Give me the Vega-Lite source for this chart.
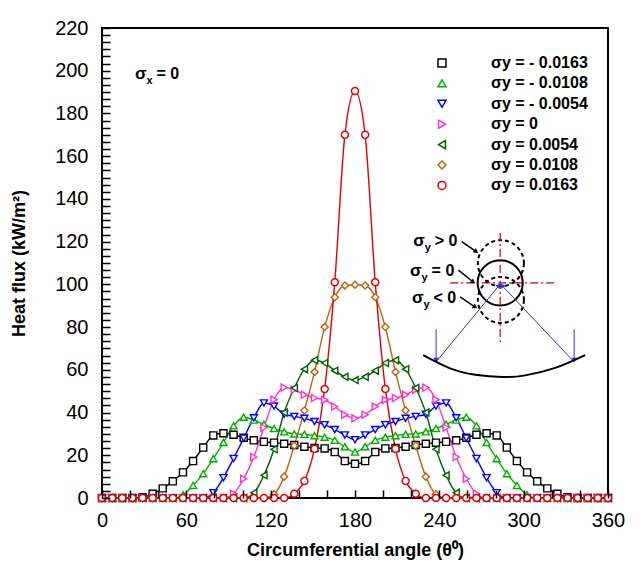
{
  "$schema": "https://vega.github.io/schema/vega-lite/v6.json",
  "width": 506,
  "height": 470,
  "autosize": {"type": "none"},
  "padding": {"left": 102, "top": 28, "right": 32, "bottom": 71},
  "background": "white",
  "config": {
    "font": "Liberation Sans",
    "view": {"stroke": "black", "strokeWidth": 2},
    "axis": {
      "domain": false,
      "grid": false,
      "labelColor": "black",
      "labelFont": "Liberation Sans",
      "labelFontSize": 20,
      "labelOverlap": false,
      "labelFlush": false,
      "titleFont": "Liberation Sans",
      "titleFontSize": 18,
      "titleFontWeight": "bold",
      "titleColor": "black"
    }
  },
  "datasets": {
    "curves": [
      {"s":"-0.0163","a":0,"q":0},{"s":"-0.0163","a":7.2,"q":0},{"s":"-0.0163","a":14.4,"q":0},{"s":"-0.0163","a":21.6,"q":0},{"s":"-0.0163","a":28.8,"q":0.3},{"s":"-0.0163","a":36,"q":2},{"s":"-0.0163","a":43.2,"q":4.5},{"s":"-0.0163","a":50.4,"q":7.8},{"s":"-0.0163","a":57.6,"q":12},{"s":"-0.0163","a":64.8,"q":17.3},{"s":"-0.0163","a":72,"q":23.6},{"s":"-0.0163","a":79.2,"q":29.3},{"s":"-0.0163","a":86.4,"q":30.3},{"s":"-0.0163","a":93.6,"q":29.6},{"s":"-0.0163","a":100.8,"q":28.2},{"s":"-0.0163","a":108,"q":27},{"s":"-0.0163","a":115.2,"q":26.3},{"s":"-0.0163","a":122.4,"q":25.9},{"s":"-0.0163","a":129.6,"q":25.4},{"s":"-0.0163","a":136.8,"q":24.8},{"s":"-0.0163","a":144,"q":24},{"s":"-0.0163","a":151.2,"q":23.4},{"s":"-0.0163","a":158.4,"q":23.2},{"s":"-0.0163","a":165.6,"q":21.5},{"s":"-0.0163","a":172.8,"q":17.3},{"s":"-0.0163","a":180,"q":16},{"s":"-0.0163","a":187.2,"q":17.3},{"s":"-0.0163","a":194.4,"q":21.5},{"s":"-0.0163","a":201.6,"q":23.2},{"s":"-0.0163","a":208.8,"q":23.4},{"s":"-0.0163","a":216,"q":24},{"s":"-0.0163","a":223.2,"q":24.8},{"s":"-0.0163","a":230.4,"q":25.4},{"s":"-0.0163","a":237.6,"q":25.9},{"s":"-0.0163","a":244.8,"q":26.3},{"s":"-0.0163","a":252,"q":27},{"s":"-0.0163","a":259.2,"q":28.2},{"s":"-0.0163","a":266.4,"q":29.6},{"s":"-0.0163","a":273.6,"q":30.3},{"s":"-0.0163","a":280.8,"q":29.3},{"s":"-0.0163","a":288,"q":23.6},{"s":"-0.0163","a":295.2,"q":17.3},{"s":"-0.0163","a":302.4,"q":12},{"s":"-0.0163","a":309.6,"q":7.8},{"s":"-0.0163","a":316.8,"q":4.5},{"s":"-0.0163","a":324,"q":2},{"s":"-0.0163","a":331.2,"q":0.3},{"s":"-0.0163","a":338.4,"q":0},{"s":"-0.0163","a":345.6,"q":0},{"s":"-0.0163","a":352.8,"q":0},{"s":"-0.0163","a":360,"q":0},
      {"s":"-0.0108","a":0,"q":0},{"s":"-0.0108","a":7.2,"q":0},{"s":"-0.0108","a":14.4,"q":0},{"s":"-0.0108","a":21.6,"q":0},{"s":"-0.0108","a":28.8,"q":0},{"s":"-0.0108","a":36,"q":0},{"s":"-0.0108","a":43.2,"q":0},{"s":"-0.0108","a":50.4,"q":0},{"s":"-0.0108","a":57.6,"q":1.5},{"s":"-0.0108","a":64.8,"q":5.9},{"s":"-0.0108","a":72,"q":11.4},{"s":"-0.0108","a":79.2,"q":18.4},{"s":"-0.0108","a":86.4,"q":26},{"s":"-0.0108","a":93.6,"q":33.8},{"s":"-0.0108","a":100.8,"q":37.8},{"s":"-0.0108","a":108,"q":36.5},{"s":"-0.0108","a":115.2,"q":34.5},{"s":"-0.0108","a":122.4,"q":32.5},{"s":"-0.0108","a":129.6,"q":31},{"s":"-0.0108","a":136.8,"q":30},{"s":"-0.0108","a":144,"q":29.8},{"s":"-0.0108","a":151.2,"q":29.2},{"s":"-0.0108","a":158.4,"q":28.5},{"s":"-0.0108","a":165.6,"q":27},{"s":"-0.0108","a":172.8,"q":24},{"s":"-0.0108","a":180,"q":21.5},{"s":"-0.0108","a":187.2,"q":24},{"s":"-0.0108","a":194.4,"q":27},{"s":"-0.0108","a":201.6,"q":28.5},{"s":"-0.0108","a":208.8,"q":29.2},{"s":"-0.0108","a":216,"q":29.8},{"s":"-0.0108","a":223.2,"q":30},{"s":"-0.0108","a":230.4,"q":31},{"s":"-0.0108","a":237.6,"q":32.5},{"s":"-0.0108","a":244.8,"q":34.5},{"s":"-0.0108","a":252,"q":36.5},{"s":"-0.0108","a":259.2,"q":37.8},{"s":"-0.0108","a":266.4,"q":33.8},{"s":"-0.0108","a":273.6,"q":26},{"s":"-0.0108","a":280.8,"q":18.4},{"s":"-0.0108","a":288,"q":11.4},{"s":"-0.0108","a":295.2,"q":5.9},{"s":"-0.0108","a":302.4,"q":1.5},{"s":"-0.0108","a":309.6,"q":0},{"s":"-0.0108","a":316.8,"q":0},{"s":"-0.0108","a":324,"q":0},{"s":"-0.0108","a":331.2,"q":0},{"s":"-0.0108","a":338.4,"q":0},{"s":"-0.0108","a":345.6,"q":0},{"s":"-0.0108","a":352.8,"q":0},{"s":"-0.0108","a":360,"q":0},
      {"s":"-0.0054","a":0,"q":0},{"s":"-0.0054","a":7.2,"q":0},{"s":"-0.0054","a":14.4,"q":0},{"s":"-0.0054","a":21.6,"q":0},{"s":"-0.0054","a":28.8,"q":0},{"s":"-0.0054","a":36,"q":0},{"s":"-0.0054","a":43.2,"q":0},{"s":"-0.0054","a":50.4,"q":0},{"s":"-0.0054","a":57.6,"q":0},{"s":"-0.0054","a":64.8,"q":0},{"s":"-0.0054","a":72,"q":0},{"s":"-0.0054","a":79.2,"q":2.5},{"s":"-0.0054","a":86.4,"q":9.5},{"s":"-0.0054","a":93.6,"q":18.5},{"s":"-0.0054","a":100.8,"q":28},{"s":"-0.0054","a":108,"q":37.5},{"s":"-0.0054","a":115.2,"q":44.5},{"s":"-0.0054","a":122.4,"q":43},{"s":"-0.0054","a":129.6,"q":39.2},{"s":"-0.0054","a":136.8,"q":38.2},{"s":"-0.0054","a":144,"q":37.3},{"s":"-0.0054","a":151.2,"q":35.8},{"s":"-0.0054","a":158.4,"q":34.3},{"s":"-0.0054","a":165.6,"q":32},{"s":"-0.0054","a":172.8,"q":29.5},{"s":"-0.0054","a":180,"q":27.3},{"s":"-0.0054","a":187.2,"q":29.5},{"s":"-0.0054","a":194.4,"q":32},{"s":"-0.0054","a":201.6,"q":34.3},{"s":"-0.0054","a":208.8,"q":35.8},{"s":"-0.0054","a":216,"q":37.3},{"s":"-0.0054","a":223.2,"q":38.2},{"s":"-0.0054","a":230.4,"q":39.2},{"s":"-0.0054","a":237.6,"q":43},{"s":"-0.0054","a":244.8,"q":44.5},{"s":"-0.0054","a":252,"q":37.5},{"s":"-0.0054","a":259.2,"q":28},{"s":"-0.0054","a":266.4,"q":18.5},{"s":"-0.0054","a":273.6,"q":9.5},{"s":"-0.0054","a":280.8,"q":2.5},{"s":"-0.0054","a":288,"q":0},{"s":"-0.0054","a":295.2,"q":0},{"s":"-0.0054","a":302.4,"q":0},{"s":"-0.0054","a":309.6,"q":0},{"s":"-0.0054","a":316.8,"q":0},{"s":"-0.0054","a":324,"q":0},{"s":"-0.0054","a":331.2,"q":0},{"s":"-0.0054","a":338.4,"q":0},{"s":"-0.0054","a":345.6,"q":0},{"s":"-0.0054","a":352.8,"q":0},{"s":"-0.0054","a":360,"q":0},
      {"s":"0","a":0,"q":0},{"s":"0","a":7.2,"q":0},{"s":"0","a":14.4,"q":0},{"s":"0","a":21.6,"q":0},{"s":"0","a":28.8,"q":0},{"s":"0","a":36,"q":0},{"s":"0","a":43.2,"q":0},{"s":"0","a":50.4,"q":0},{"s":"0","a":57.6,"q":0},{"s":"0","a":64.8,"q":0},{"s":"0","a":72,"q":0},{"s":"0","a":79.2,"q":0},{"s":"0","a":86.4,"q":0},{"s":"0","a":93.6,"q":2},{"s":"0","a":100.8,"q":9},{"s":"0","a":108,"q":19.2},{"s":"0","a":115.2,"q":33},{"s":"0","a":122.4,"q":46},{"s":"0","a":129.6,"q":51.7},{"s":"0","a":136.8,"q":50.7},{"s":"0","a":144,"q":48.3},{"s":"0","a":151.2,"q":46.8},{"s":"0","a":158.4,"q":45.9},{"s":"0","a":165.6,"q":42.8},{"s":"0","a":172.8,"q":39},{"s":"0","a":180,"q":37.3},{"s":"0","a":187.2,"q":39},{"s":"0","a":194.4,"q":42.8},{"s":"0","a":201.6,"q":45.9},{"s":"0","a":208.8,"q":46.8},{"s":"0","a":216,"q":48.3},{"s":"0","a":223.2,"q":50.7},{"s":"0","a":230.4,"q":51.7},{"s":"0","a":237.6,"q":46},{"s":"0","a":244.8,"q":33},{"s":"0","a":252,"q":19.2},{"s":"0","a":259.2,"q":9},{"s":"0","a":266.4,"q":2},{"s":"0","a":273.6,"q":0},{"s":"0","a":280.8,"q":0},{"s":"0","a":288,"q":0},{"s":"0","a":295.2,"q":0},{"s":"0","a":302.4,"q":0},{"s":"0","a":309.6,"q":0},{"s":"0","a":316.8,"q":0},{"s":"0","a":324,"q":0},{"s":"0","a":331.2,"q":0},{"s":"0","a":338.4,"q":0},{"s":"0","a":345.6,"q":0},{"s":"0","a":352.8,"q":0},{"s":"0","a":360,"q":0},
      {"s":"0.0054","a":0,"q":0},{"s":"0.0054","a":7.2,"q":0},{"s":"0.0054","a":14.4,"q":0},{"s":"0.0054","a":21.6,"q":0},{"s":"0.0054","a":28.8,"q":0},{"s":"0.0054","a":36,"q":0},{"s":"0.0054","a":43.2,"q":0},{"s":"0.0054","a":50.4,"q":0},{"s":"0.0054","a":57.6,"q":0},{"s":"0.0054","a":64.8,"q":0},{"s":"0.0054","a":72,"q":0},{"s":"0.0054","a":79.2,"q":0},{"s":"0.0054","a":86.4,"q":0},{"s":"0.0054","a":93.6,"q":0},{"s":"0.0054","a":100.8,"q":0},{"s":"0.0054","a":108,"q":2.4},{"s":"0.0054","a":115.2,"q":10.6},{"s":"0.0054","a":122.4,"q":22.8},{"s":"0.0054","a":129.6,"q":40},{"s":"0.0054","a":136.8,"q":51.5},{"s":"0.0054","a":144,"q":60.3},{"s":"0.0054","a":151.2,"q":64.5},{"s":"0.0054","a":158.4,"q":63.2},{"s":"0.0054","a":165.6,"q":59.6},{"s":"0.0054","a":172.8,"q":56.7},{"s":"0.0054","a":180,"q":55.2},{"s":"0.0054","a":187.2,"q":56.7},{"s":"0.0054","a":194.4,"q":59.6},{"s":"0.0054","a":201.6,"q":63.2},{"s":"0.0054","a":208.8,"q":64.5},{"s":"0.0054","a":216,"q":60.3},{"s":"0.0054","a":223.2,"q":51.5},{"s":"0.0054","a":230.4,"q":40},{"s":"0.0054","a":237.6,"q":22.8},{"s":"0.0054","a":244.8,"q":10.6},{"s":"0.0054","a":252,"q":2.4},{"s":"0.0054","a":259.2,"q":0},{"s":"0.0054","a":266.4,"q":0},{"s":"0.0054","a":273.6,"q":0},{"s":"0.0054","a":280.8,"q":0},{"s":"0.0054","a":288,"q":0},{"s":"0.0054","a":295.2,"q":0},{"s":"0.0054","a":302.4,"q":0},{"s":"0.0054","a":309.6,"q":0},{"s":"0.0054","a":316.8,"q":0},{"s":"0.0054","a":324,"q":0},{"s":"0.0054","a":331.2,"q":0},{"s":"0.0054","a":338.4,"q":0},{"s":"0.0054","a":345.6,"q":0},{"s":"0.0054","a":352.8,"q":0},{"s":"0.0054","a":360,"q":0},
      {"s":"0.0108","a":0,"q":0},{"s":"0.0108","a":7.2,"q":0},{"s":"0.0108","a":14.4,"q":0},{"s":"0.0108","a":21.6,"q":0},{"s":"0.0108","a":28.8,"q":0},{"s":"0.0108","a":36,"q":0},{"s":"0.0108","a":43.2,"q":0},{"s":"0.0108","a":50.4,"q":0},{"s":"0.0108","a":57.6,"q":0},{"s":"0.0108","a":64.8,"q":0},{"s":"0.0108","a":72,"q":0},{"s":"0.0108","a":79.2,"q":0},{"s":"0.0108","a":86.4,"q":0},{"s":"0.0108","a":93.6,"q":0},{"s":"0.0108","a":100.8,"q":0},{"s":"0.0108","a":108,"q":0},{"s":"0.0108","a":115.2,"q":0},{"s":"0.0108","a":122.4,"q":1.7},{"s":"0.0108","a":129.6,"q":10},{"s":"0.0108","a":136.8,"q":24.5},{"s":"0.0108","a":144,"q":41},{"s":"0.0108","a":151.2,"q":59},{"s":"0.0108","a":158.4,"q":80},{"s":"0.0108","a":165.6,"q":94},{"s":"0.0108","a":172.8,"q":99.5},{"s":"0.0108","a":180,"q":99.8},{"s":"0.0108","a":187.2,"q":99.5},{"s":"0.0108","a":194.4,"q":94},{"s":"0.0108","a":201.6,"q":80},{"s":"0.0108","a":208.8,"q":59},{"s":"0.0108","a":216,"q":41},{"s":"0.0108","a":223.2,"q":24.5},{"s":"0.0108","a":230.4,"q":10},{"s":"0.0108","a":237.6,"q":1.7},{"s":"0.0108","a":244.8,"q":0},{"s":"0.0108","a":252,"q":0},{"s":"0.0108","a":259.2,"q":0},{"s":"0.0108","a":266.4,"q":0},{"s":"0.0108","a":273.6,"q":0},{"s":"0.0108","a":280.8,"q":0},{"s":"0.0108","a":288,"q":0},{"s":"0.0108","a":295.2,"q":0},{"s":"0.0108","a":302.4,"q":0},{"s":"0.0108","a":309.6,"q":0},{"s":"0.0108","a":316.8,"q":0},{"s":"0.0108","a":324,"q":0},{"s":"0.0108","a":331.2,"q":0},{"s":"0.0108","a":338.4,"q":0},{"s":"0.0108","a":345.6,"q":0},{"s":"0.0108","a":352.8,"q":0},{"s":"0.0108","a":360,"q":0},
      {"s":"0.0163","a":0,"q":0},{"s":"0.0163","a":7.2,"q":0},{"s":"0.0163","a":14.4,"q":0},{"s":"0.0163","a":21.6,"q":0},{"s":"0.0163","a":28.8,"q":0},{"s":"0.0163","a":36,"q":0},{"s":"0.0163","a":43.2,"q":0},{"s":"0.0163","a":50.4,"q":0},{"s":"0.0163","a":57.6,"q":0},{"s":"0.0163","a":64.8,"q":0},{"s":"0.0163","a":72,"q":0},{"s":"0.0163","a":79.2,"q":0},{"s":"0.0163","a":86.4,"q":0},{"s":"0.0163","a":93.6,"q":0},{"s":"0.0163","a":100.8,"q":0},{"s":"0.0163","a":108,"q":0},{"s":"0.0163","a":115.2,"q":0},{"s":"0.0163","a":122.4,"q":0},{"s":"0.0163","a":129.6,"q":0},{"s":"0.0163","a":136.8,"q":2},{"s":"0.0163","a":144,"q":8},{"s":"0.0163","a":151.2,"q":23},{"s":"0.0163","a":158.4,"q":51},{"s":"0.0163","a":165.6,"q":101},{"s":"0.0163","a":172.8,"q":170},{"s":"0.0163","a":180,"q":190.5},{"s":"0.0163","a":187.2,"q":170},{"s":"0.0163","a":194.4,"q":101},{"s":"0.0163","a":201.6,"q":51},{"s":"0.0163","a":208.8,"q":23},{"s":"0.0163","a":216,"q":8},{"s":"0.0163","a":223.2,"q":2},{"s":"0.0163","a":230.4,"q":0},{"s":"0.0163","a":237.6,"q":0},{"s":"0.0163","a":244.8,"q":0},{"s":"0.0163","a":252,"q":0},{"s":"0.0163","a":259.2,"q":0},{"s":"0.0163","a":266.4,"q":0},{"s":"0.0163","a":273.6,"q":0},{"s":"0.0163","a":280.8,"q":0},{"s":"0.0163","a":288,"q":0},{"s":"0.0163","a":295.2,"q":0},{"s":"0.0163","a":302.4,"q":0},{"s":"0.0163","a":309.6,"q":0},{"s":"0.0163","a":316.8,"q":0},{"s":"0.0163","a":324,"q":0},{"s":"0.0163","a":331.2,"q":0},{"s":"0.0163","a":338.4,"q":0},{"s":"0.0163","a":345.6,"q":0},{"s":"0.0163","a":352.8,"q":0},{"s":"0.0163","a":360,"q":0}
    ],
    "notes": [
      {"a": 23.5, "q": 198.5, "sub": "x", "rest": "= 0"},
      {"a": 221.4, "q": 120.3, "sub": "y", "rest": "> 0"},
      {"a": 219.2, "q": 106.3, "sub": "y", "rest": "= 0"},
      {"a": 220.6, "q": 93.6, "sub": "y", "rest": "< 0"}
    ],
    "segments": [
      {"part": "cross", "a": 247.7, "q": 100.7, "a2": 323.8, "q2": 100.7},
      {"part": "cross", "a": 283.3, "q": 124, "a2": 283.3, "q2": 73},
      {"part": "ray", "a": 237.7, "q": 63.7, "a2": 282.5, "q2": 99.5},
      {"part": "ray", "a": 335.9, "q": 63.7, "a2": 284.5, "q2": 99.5},
      {"part": "ray", "a": 237.7, "q": 79, "a2": 237.7, "q2": 64.5},
      {"part": "ray", "a": 335.9, "q": 79, "a2": 335.9, "q2": 64.5},
      {"part": "pointer", "a": 256, "q": 120, "a2": 266.2, "q2": 115.3},
      {"part": "pointer", "a": 253.6, "q": 106.7, "a2": 264.1, "q2": 101.1},
      {"part": "pointer", "a": 254.8, "q": 94.1, "a2": 265.5, "q2": 89.4}
    ],
    "heads": [
      {"part": "pointer", "a": 266.2, "q": 115.3},
      {"part": "pointer", "a": 264.1, "q": 101.1},
      {"part": "pointer", "a": 265.5, "q": 89.4},
      {"part": "down", "a": 237.7, "q": 64.5},
      {"part": "down", "a": 335.9, "q": 64.5},
      {"part": "left", "a": 282.5, "q": 99.5},
      {"part": "right", "a": 284.5, "q": 99.5}
    ],
    "arc": [
      {"a": 228.5, "q": 66.9}, {"a": 247.7, "q": 60.7}, {"a": 265.5, "q": 57.7},
      {"a": 284.7, "q": 56.6}, {"a": 301.1, "q": 57.4}, {"a": 322.4, "q": 60.9},
      {"a": 343.8, "q": 66.9}
    ],
    "rings": [
      {"kind": "solid", "a": 283.3, "q": 100.7},
      {"kind": "dashed", "a": 283.8, "q": 109.9},
      {"kind": "dashed", "a": 283.8, "q": 92.7}
    ]
  },
  "encoding": {
    "x": {
      "field": "a", "type": "quantitative",
      "scale": {"domain": [0, 360], "nice": false},
      "axis": {
        "title": "Circumferential angle (θ⁰)",
        "values": [0,20,40,60,80,100,120,140,160,180,200,220,240,260,280,300,320,340,360],
        "labelExpr": "datum.value % 60 === 0 ? datum.label : ''",
        "ticks": true,
        "tickSize": 8,
        "tickColor": "black",
        "tickWidth": 1.5,
        "offset": -8,
        "zindex": 1,
        "labelPadding": 12,
        "titleX": 253,
        "titleY": 51
      }
    },
    "y": {
      "field": "q", "type": "quantitative",
      "scale": {"domain": [0, 220], "nice": false},
      "axis": {
        "title": "Heat flux (kW/m²)",
        "values": [0,3.3333,6.6667,10,13.3333,16.6667,20,23.3333,26.6667,30,33.3333,36.6667,40,43.3333,46.6667,50,53.3333,56.6667,60,63.3333,66.6667,70,73.3333,76.6667,80,83.3333,86.6667,90,93.3333,96.6667,100,103.3333,106.6667,110,113.3333,116.6667,120,123.3333,126.6667,130,133.3333,136.6667,140,143.3333,146.6667,150,153.3333,156.6667,160,163.3333,166.6667,170,173.3333,176.6667,180,183.3333,186.6667,190,193.3333,196.6667,200,203.3333,206.6667,210,213.3333,216.6667,220],
        "labelExpr": "datum.value % 20 === 0 ? format(datum.value, 'd') : ''",
        "ticks": true,
        "tickSize": 8,
        "tickColor": "black",
        "tickWidth": 1.5,
        "offset": -8,
        "zindex": 1,
        "labelPadding": 14,
        "titleX": -82,
        "titleY": 235
      }
    }
  },
  "layer": [
    {
      "data": {"name": "curves"},
      "mark": {"type": "line", "strokeWidth": 1.4, "interpolate": "monotone"},
      "encoding": {
        "color": {
          "field": "s", "type": "nominal",
          "scale": {
            "domain": ["-0.0163","-0.0108","-0.0054","0","0.0054","0.0108","0.0163"],
            "range": ["#000000","#00b000","#0000ff","#ff33cc","#006000","#c06010","#e00000"]
          }
        }
      }
    },
    {
      "data": {"name": "curves"},
      "mark": {"type": "point", "filled": false, "fill": "white", "fillOpacity": 1, "opacity": 1, "strokeWidth": 1.4, "size": 50},
      "encoding": {
        "color": {
          "field": "s", "type": "nominal",
          "legend": {
            "orient": "none",
            "legendX": 332,
            "legendY": 27,
            "title": null,
            "labelFont": "Liberation Sans",
            "labelFontSize": 16,
            "labelFontWeight": "bold",
            "labelColor": "black",
            "labelOffset": 41,
            "labelLimit": 250,
            "symbolSize": 64,
            "symbolStrokeWidth": 1.5,
            "rowPadding": 4.4,
            "symbolFillColor": "white",
            "labelExpr": "'σy = ' + (indexof(datum.label, '-') === 0 ? '- ' + substring(datum.label, 1) : datum.label)"
          }
        },
        "shape": {
          "field": "s", "type": "nominal",
          "scale": {
            "domain": ["-0.0163","-0.0108","-0.0054","0","0.0054","0.0108","0.0163"],
            "range": ["square","triangle-up","triangle-down","triangle-right","triangle-left","diamond","circle"]
          }
        }
      }
    },
    {
      "data": {"name": "rings"},
      "transform": [{"filter": "datum.kind === 'solid'"}],
      "mark": {"type": "point", "shape": "circle", "size": 2040, "filled": false, "stroke": "black", "strokeWidth": 2, "opacity": 1}
    },
    {
      "data": {"name": "rings"},
      "transform": [{"filter": "datum.kind === 'dashed'"}],
      "mark": {"type": "point", "shape": "circle", "size": 2120, "filled": false, "stroke": "black", "strokeWidth": 2, "strokeDash": [4, 3], "opacity": 1}
    },
    {
      "data": {"name": "segments"},
      "transform": [{"filter": "datum.part === 'cross'"}],
      "mark": {"type": "rule", "color": "#cc0000", "strokeWidth": 1.2, "strokeDash": [8, 3, 2, 3]},
      "encoding": {"x2": {"field": "a2"}, "y2": {"field": "q2"}}
    },
    {
      "data": {"name": "segments"},
      "transform": [{"filter": "datum.part === 'ray'"}],
      "mark": {"type": "rule", "color": "#2233ee", "strokeWidth": 1},
      "encoding": {"x2": {"field": "a2"}, "y2": {"field": "q2"}}
    },
    {
      "data": {"name": "segments"},
      "transform": [{"filter": "datum.part === 'pointer'"}],
      "mark": {"type": "rule", "color": "black", "strokeWidth": 1.5},
      "encoding": {"x2": {"field": "a2"}, "y2": {"field": "q2"}}
    },
    {
      "data": {"name": "heads"},
      "transform": [{"filter": "datum.part === 'pointer'"}],
      "mark": {"type": "point", "shape": "triangle-up", "angle": 125, "size": 30, "filled": true, "color": "black", "opacity": 1}
    },
    {
      "data": {"name": "heads"},
      "transform": [{"filter": "datum.part === 'down'"}],
      "mark": {"type": "point", "shape": "triangle-down", "size": 30, "filled": true, "color": "#2233ee", "opacity": 1}
    },
    {
      "data": {"name": "heads"},
      "transform": [{"filter": "datum.part === 'left'"}],
      "mark": {"type": "point", "shape": "triangle-up", "angle": 40, "size": 30, "filled": true, "color": "#2233ee", "opacity": 1}
    },
    {
      "data": {"name": "heads"},
      "transform": [{"filter": "datum.part === 'right'"}],
      "mark": {"type": "point", "shape": "triangle-up", "angle": -44, "size": 30, "filled": true, "color": "#2233ee", "opacity": 1}
    },
    {
      "data": {"name": "arc"},
      "mark": {"type": "line", "color": "black", "strokeWidth": 2, "interpolate": "natural"}
    },
    {
      "data": {"name": "notes"},
      "mark": {"type": "text", "text": "σ", "align": "left", "baseline": "middle", "font": "Liberation Sans", "fontSize": 17, "fontWeight": "bold", "color": "black"}
    },
    {
      "data": {"name": "notes"},
      "mark": {"type": "text", "align": "left", "baseline": "middle", "dx": 11.5, "dy": 7, "font": "Liberation Sans", "fontSize": 11, "fontWeight": "bold", "color": "black"},
      "encoding": {"text": {"field": "sub"}}
    },
    {
      "data": {"name": "notes"},
      "mark": {"type": "text", "align": "left", "baseline": "middle", "dx": 21.5, "font": "Liberation Sans", "fontSize": 16, "fontWeight": "bold", "color": "black"},
      "encoding": {"text": {"field": "rest"}}
    }
  ]
}
